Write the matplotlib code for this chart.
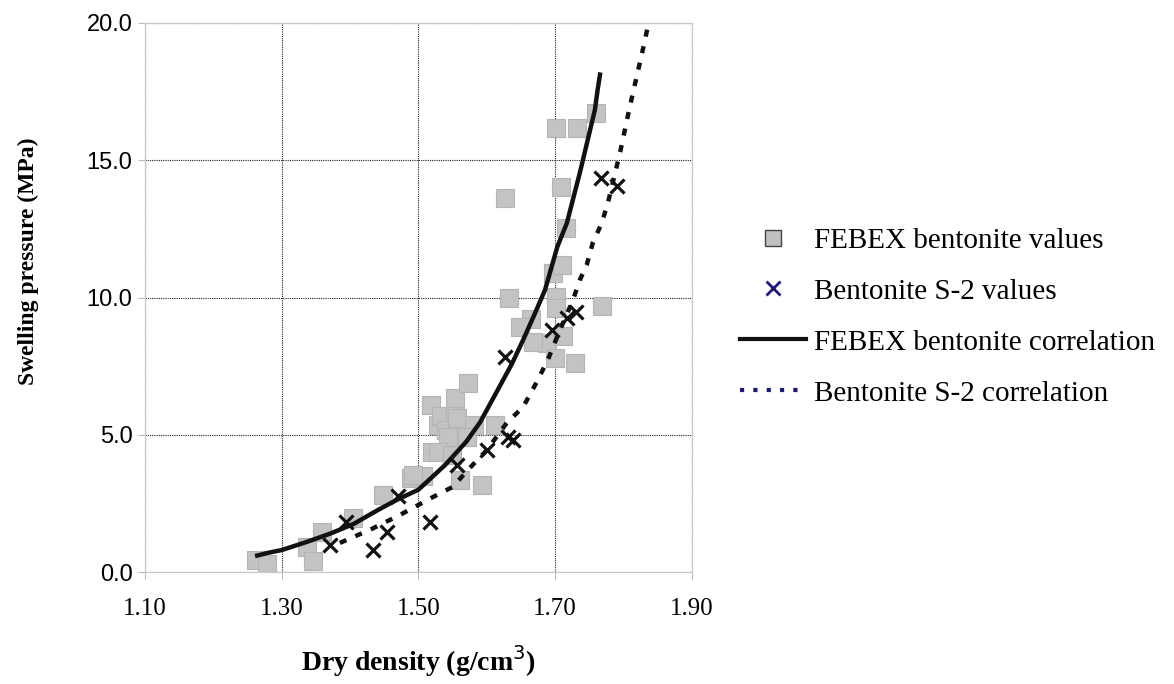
import matplotlib
matplotlib.use("Agg")
from matplotlib import pyplot as plt
from matplotlib.lines import Line2D

# FEBEX bentonite measurements (dry density g/cm3, swelling pressure MPa)
febex_dens = [1.262, 1.278, 1.337, 1.346, 1.359, 1.404, 1.448, 1.489, 1.507, 1.492,
              1.520, 1.518, 1.529, 1.533, 1.540, 1.543, 1.553, 1.556, 1.553, 1.572,
              1.581, 1.571, 1.612, 1.529, 1.549, 1.593, 1.561, 1.632, 1.627, 1.665,
              1.648, 1.688, 1.667, 1.701, 1.701, 1.711, 1.700, 1.729, 1.768, 1.697,
              1.710, 1.716, 1.708, 1.701, 1.732, 1.760]
febex_press = [0.44, 0.29, 0.91, 0.40, 1.46, 1.97, 2.81, 3.42, 3.50, 3.53,
               4.37, 6.08, 5.36, 5.68, 5.17, 4.92, 5.87, 5.61, 6.34, 6.89,
               5.36, 4.92, 5.36, 4.37, 4.26, 3.17, 3.35, 9.98, 13.62, 9.22,
               8.93, 8.34, 8.38, 10.02, 9.62, 8.60, 7.80, 7.61, 9.69, 10.89,
               11.18, 12.53, 14.03, 16.18, 16.18, 16.72]

# bentonite S-2 measurements
s2_dens = [1.371, 1.394, 1.433, 1.454, 1.470, 1.517, 1.556, 1.600, 1.627, 1.631,
           1.638, 1.695, 1.717, 1.730, 1.767, 1.790]
s2_press = [0.98, 1.82, 0.80, 1.46, 2.77, 1.82, 3.90, 4.44, 7.83, 4.92,
            4.81, 8.82, 9.25, 9.47, 14.35, 14.06]

# correlation curves
febex_fit_dens = [1.261, 1.280, 1.300, 1.337, 1.371, 1.405, 1.440, 1.470, 1.500, 1.539,
                  1.570, 1.590, 1.613, 1.637, 1.653, 1.670, 1.685, 1.703, 1.717, 1.736,
                  1.751, 1.758, 1.762, 1.766]
febex_fit_press = [0.58, 0.70, 0.80, 1.10, 1.40, 1.75, 2.25, 2.65, 3.00, 3.90,
                   4.75, 5.45, 6.50, 7.60, 8.45, 9.40, 10.27, 11.84, 12.71, 14.54,
                   16.10, 16.83, 17.56, 18.20]

s2_fit_dens = [1.385, 1.430, 1.473, 1.521, 1.550, 1.575, 1.600, 1.629, 1.653, 1.673,
               1.689, 1.705, 1.726, 1.736, 1.746, 1.755, 1.768, 1.777, 1.795, 1.809,
               1.827, 1.836, 1.840]
s2_fit_press = [1.06, 1.55, 2.08, 2.73, 3.10, 3.79, 4.44, 5.43, 6.01, 6.92,
                7.72, 8.70, 9.91, 10.64, 11.18, 11.99, 12.71, 13.44, 15.30, 16.94,
                18.90, 19.93, 20.00]

fig = plt.figure(figsize=(11.74, 6.84), dpi=100)
ax = fig.add_axes([0.1235, 0.1637, 0.4659, 0.8027])

ax.plot(febex_dens, febex_press, ls="none", marker="s", ms=13.5,
        mfc="#c3c3c3", mec="#b4b4b4", mew=0.8, zorder=2)
ax.plot(febex_fit_dens, febex_fit_press, color="#111111", lw=3.2,
        solid_capstyle="butt", zorder=3)
ax.plot(s2_fit_dens, s2_fit_press, color="#111111", lw=3.2,
        ls=(0, (1.6, 2.2)), zorder=3)
ax.plot(s2_dens, s2_press, ls="none", marker="x", ms=10, mew=2.3,
        color="#111111", zorder=4)

ax.set_xlim(1.10, 1.90)
ax.set_ylim(0, 20)
ax.set_xticks([1.10, 1.30, 1.50, 1.70, 1.90])
ax.set_xticklabels(["1.10", "1.30", "1.50", "1.70", "1.90"],
                   family="Liberation Serif", fontsize=18)
ax.set_yticks([0, 5, 10, 15, 20])
ax.set_yticklabels(["0.0", "5.0", "10.0", "15.0", "20.0"],
                   family="Liberation Sans", fontsize=17)
ax.tick_params(axis="both", color="#b8b8b8", length=5, width=0.8)
ax.tick_params(axis="x", pad=14)
ax.tick_params(axis="y", pad=4)

ax.grid(True, color="#222222", ls=(0, (1, 1)), lw=0.8)
for s in ax.spines.values():
    s.set_color("#c8c8c8")
    s.set_linewidth(0.9)

ax.set_xlabel("Dry density (g/cm$^3$)", family="Liberation Serif",
              fontweight="bold", fontsize=20, labelpad=16)
ax.set_ylabel("Swelling pressure (MPa)", family="Liberation Serif",
              fontweight="bold", fontsize=17)
ax.yaxis.set_label_coords(-0.194, 0.566)

handles = [
    Line2D([], [], ls="none", marker="s", ms=11, mfc="#c0c0c0", mec="#444444", mew=1),
    Line2D([], [], ls="none", marker="x", ms=10, mew=2, color="#1a1a7a"),
    Line2D([], [], color="#111111", lw=3),
    Line2D([], [], color="#1a1a7a", lw=3, ls=(0, (1, 2.2))),
]
labels = ["FEBEX bentonite values", "Bentonite S-2 values",
          "FEBEX bentonite correlation", "Bentonite S-2 correlation"]
fig.legend(handles, labels, loc="upper left", bbox_to_anchor=(0.608, 0.706),
           frameon=False, prop={"family": "Liberation Serif", "size": 21},
           handlelength=2.25, handletextpad=0.3, labelspacing=0.84)

fig.savefig("out.png", dpi=100)
